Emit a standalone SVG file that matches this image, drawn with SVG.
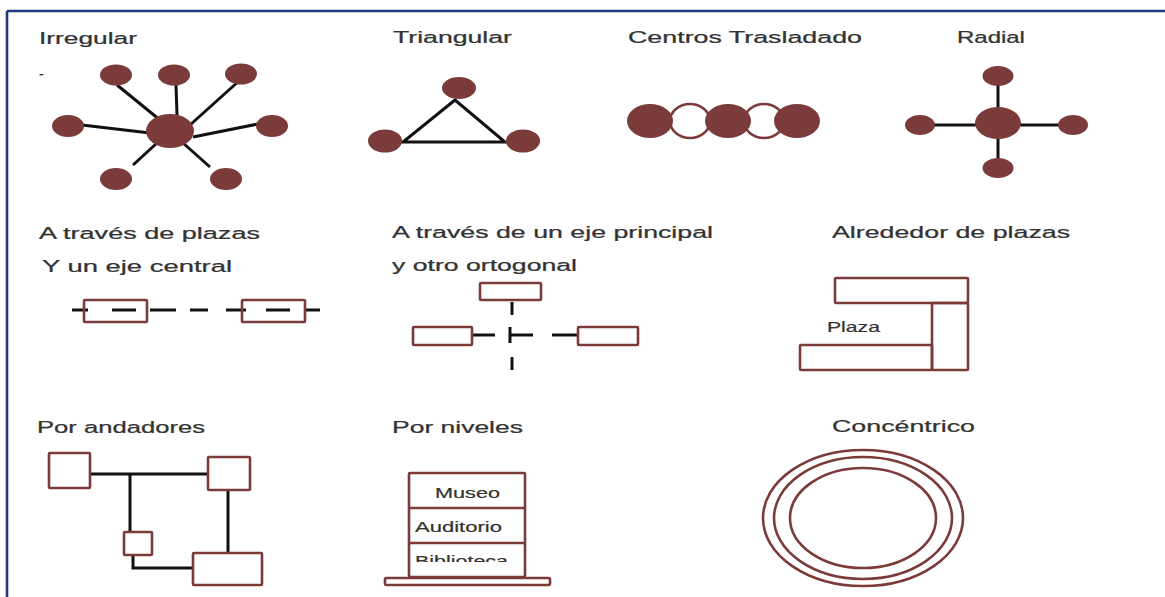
<svg xmlns="http://www.w3.org/2000/svg" width="1165" height="597" viewBox="0 0 1165 597">
<style>
.t{font-family:"Liberation Sans",Arial,sans-serif;font-size:17px;fill:#333;stroke:#333;stroke-width:0.25;}
.s{font-family:"Liberation Sans",Arial,sans-serif;font-size:14px;fill:#333;stroke:#333;stroke-width:0.2;}
.n{fill:#7b3b3b;}
.o{fill:#fff;stroke:#7b3b3b;stroke-width:2.6;}
.h{fill:none;stroke:#7b3b3b;stroke-width:2.6;}
.l{stroke:#111;stroke-width:3;fill:none;}
</style>
<defs>
<clipPath id="bibclip"><rect x="-20" y="-16" width="100" height="12"/></clipPath>
</defs>
<rect width="1165" height="597" fill="#fff"/>
<g id="frame" stroke="#1c3a7c" stroke-width="2.6" fill="none">
<line x1="7" y1="11" x2="1165" y2="11"/>
<line x1="7" y1="11" x2="7" y2="597"/>
</g>
<g id="connectors">
<line class="l" x1="117" y1="85" x2="160" y2="120"/>
<line class="l" x1="176" y1="85" x2="177" y2="115"/>
<line class="l" x1="240" y1="80" x2="190" y2="125"/>
<line class="l" x1="82" y1="125" x2="150" y2="133"/>
<line class="l" x1="258" y1="124" x2="193" y2="137"/>
<line class="l" x1="133" y1="165" x2="157" y2="143"/>
<line class="l" x1="210" y1="167" x2="183" y2="143"/>
<polygon class="l" points="455,100 403,142 505,142"/>
<line class="l" x1="998" y1="84" x2="998" y2="162"/>
<line class="l" x1="930" y1="125" x2="1066" y2="125"/>
<line class="l" x1="72" y1="310" x2="88" y2="310"/>
<line class="l" x1="112" y1="310" x2="136" y2="310"/>
<line class="l" x1="150" y1="310" x2="176" y2="310"/>
<line class="l" x1="190" y1="310" x2="208" y2="310"/>
<line class="l" x1="226" y1="310" x2="246" y2="310"/>
<line class="l" x1="266" y1="310" x2="290" y2="310"/>
<line class="l" x1="304" y1="310" x2="320" y2="310"/>
<line class="l" x1="512" y1="302" x2="512" y2="315"/>
<line class="l" x1="472" y1="335" x2="495" y2="335"/>
<line class="l" x1="510" y1="327" x2="510" y2="343"/>
<line class="l" x1="510" y1="335" x2="533" y2="335"/>
<line class="l" x1="552" y1="335" x2="578" y2="335"/>
<line class="l" x1="512" y1="357" x2="512" y2="370"/>
<line class="l" x1="90" y1="474" x2="208" y2="474"/>
<line class="l" x1="130" y1="474" x2="130" y2="532"/>
<line class="l" x1="228" y1="490" x2="228" y2="553"/>
<polyline class="l" points="133,555 133,568 193,568"/>
</g>
<g id="irregular">
<text class="t" transform="translate(39,44) scale(1.5,1)" textLength="65.3" lengthAdjust="spacingAndGlyphs">Irregular</text>
<text class="s" x="39" y="79" font-size="10">-</text>
<ellipse class="n" cx="170" cy="131" rx="24" ry="17"/>
<ellipse class="n" cx="116" cy="75" rx="16" ry="10.5"/>
<ellipse class="n" cx="174" cy="75" rx="16" ry="10.5"/>
<ellipse class="n" cx="241" cy="74" rx="16" ry="10.5"/>
<ellipse class="n" cx="68" cy="126" rx="16" ry="11"/>
<ellipse class="n" cx="272" cy="126" rx="16" ry="11"/>
<ellipse class="n" cx="116" cy="179" rx="16" ry="11"/>
<ellipse class="n" cx="226" cy="179" rx="16" ry="11"/>
</g>
<g id="triangular">
<text class="t" transform="translate(393,43) scale(1.5,1)" textLength="79.3" lengthAdjust="spacingAndGlyphs">Triangular</text>
<ellipse class="n" cx="459" cy="88" rx="17" ry="11"/>
<ellipse class="n" cx="385" cy="141" rx="17" ry="11.5"/>
<ellipse class="n" cx="523" cy="141" rx="17" ry="11.5"/>
</g>
<g id="centros-trasladado">
<text class="t" transform="translate(628,43) scale(1.5,1)" textLength="156" lengthAdjust="spacingAndGlyphs">Centros Trasladado</text>
<ellipse class="h" cx="690" cy="121" rx="20" ry="17"/>
<ellipse class="h" cx="764" cy="121" rx="20" ry="17"/>
<ellipse class="n" cx="650" cy="121" rx="23" ry="17"/>
<ellipse class="n" cx="728" cy="121" rx="23" ry="17"/>
<ellipse class="n" cx="797" cy="121" rx="23" ry="17"/>
</g>
<g id="radial">
<text class="t" transform="translate(957,43) scale(1.5,1)" textLength="45.3" lengthAdjust="spacingAndGlyphs">Radial</text>
<ellipse class="n" cx="998" cy="123" rx="23" ry="16"/>
<ellipse class="n" cx="998" cy="76" rx="15.5" ry="10"/>
<ellipse class="n" cx="998" cy="168" rx="15.5" ry="10"/>
<ellipse class="n" cx="920" cy="125" rx="15" ry="10"/>
<ellipse class="n" cx="1073" cy="125" rx="15" ry="10"/>
</g>
<g id="plazas-eje-central">
<text class="t" transform="translate(39,239) scale(1.5,1)" textLength="147.3" lengthAdjust="spacingAndGlyphs">A través de plazas</text>
<text class="t" transform="translate(42,272) scale(1.5,1)" textLength="126.7" lengthAdjust="spacingAndGlyphs">Y un eje central</text>
<rect class="h" x="84" y="300" width="63" height="22" rx="1"/>
<rect class="h" x="242" y="300" width="63" height="22" rx="1"/>
</g>
<g id="eje-principal-ortogonal">
<text class="t" transform="translate(392,238) scale(1.5,1)" textLength="214" lengthAdjust="spacingAndGlyphs">A través de un eje principal</text>
<text class="t" transform="translate(392,271) scale(1.5,1)" textLength="123.3" lengthAdjust="spacingAndGlyphs">y otro ortogonal</text>
<rect class="o" x="480" y="283" width="61" height="17" rx="1"/>
<rect class="o" x="413" y="327" width="59" height="18" rx="1"/>
<rect class="o" x="578" y="327" width="60" height="18" rx="1"/>
</g>
<g id="alrededor-plazas">
<text class="t" transform="translate(832,238) scale(1.5,1)" textLength="158.7" lengthAdjust="spacingAndGlyphs">Alrededor de plazas</text>
<rect class="h" x="835" y="278" width="133" height="25" rx="1"/>
<rect class="h" x="932" y="303" width="36" height="67" rx="1"/>
<rect class="h" x="800" y="345" width="132" height="25" rx="1"/>
<text class="s" transform="translate(827,332) scale(1.5,1)" textLength="35.3" lengthAdjust="spacingAndGlyphs">Plaza</text>
</g>
<g id="por-andadores">
<text class="t" transform="translate(37,433) scale(1.5,1)" textLength="112" lengthAdjust="spacingAndGlyphs">Por andadores</text>
<rect class="o" x="49" y="453" width="41" height="35" rx="1"/>
<rect class="o" x="208" y="457" width="42" height="33" rx="1"/>
<rect class="o" x="124" y="532" width="28" height="23" rx="1"/>
<rect class="o" x="193" y="553" width="69" height="32" rx="1"/>
</g>
<g id="por-niveles">
<text class="t" transform="translate(392,433) scale(1.5,1)" textLength="87.3" lengthAdjust="spacingAndGlyphs">Por niveles</text>
<rect class="h" x="409" y="473" width="116" height="104" rx="1"/>
<line class="h" x1="409" y1="508" x2="525" y2="508"/>
<line class="h" x1="409" y1="543" x2="525" y2="543"/>
<rect class="h" x="385" y="578" width="165" height="7" rx="1.5"/>
<text class="s" transform="translate(435,498) scale(1.5,1)" textLength="43.3" lengthAdjust="spacingAndGlyphs">Museo</text>
<text class="s" transform="translate(415,532) scale(1.5,1)" textLength="58" lengthAdjust="spacingAndGlyphs">Auditorio</text>
<text class="s" transform="translate(415,566) scale(1.5,1)" textLength="62" lengthAdjust="spacingAndGlyphs" clip-path="url(#bibclip)">Biblioteca</text>
</g>
<g id="concentrico">
<text class="t" transform="translate(832,432) scale(1.5,1)" textLength="95.3" lengthAdjust="spacingAndGlyphs">Concéntrico</text>
<ellipse class="h" cx="863" cy="518" rx="100" ry="68"/>
<ellipse class="h" cx="863" cy="518" rx="89" ry="61"/>
<ellipse class="h" cx="863" cy="518" rx="73" ry="50"/>
</g>
</svg>
